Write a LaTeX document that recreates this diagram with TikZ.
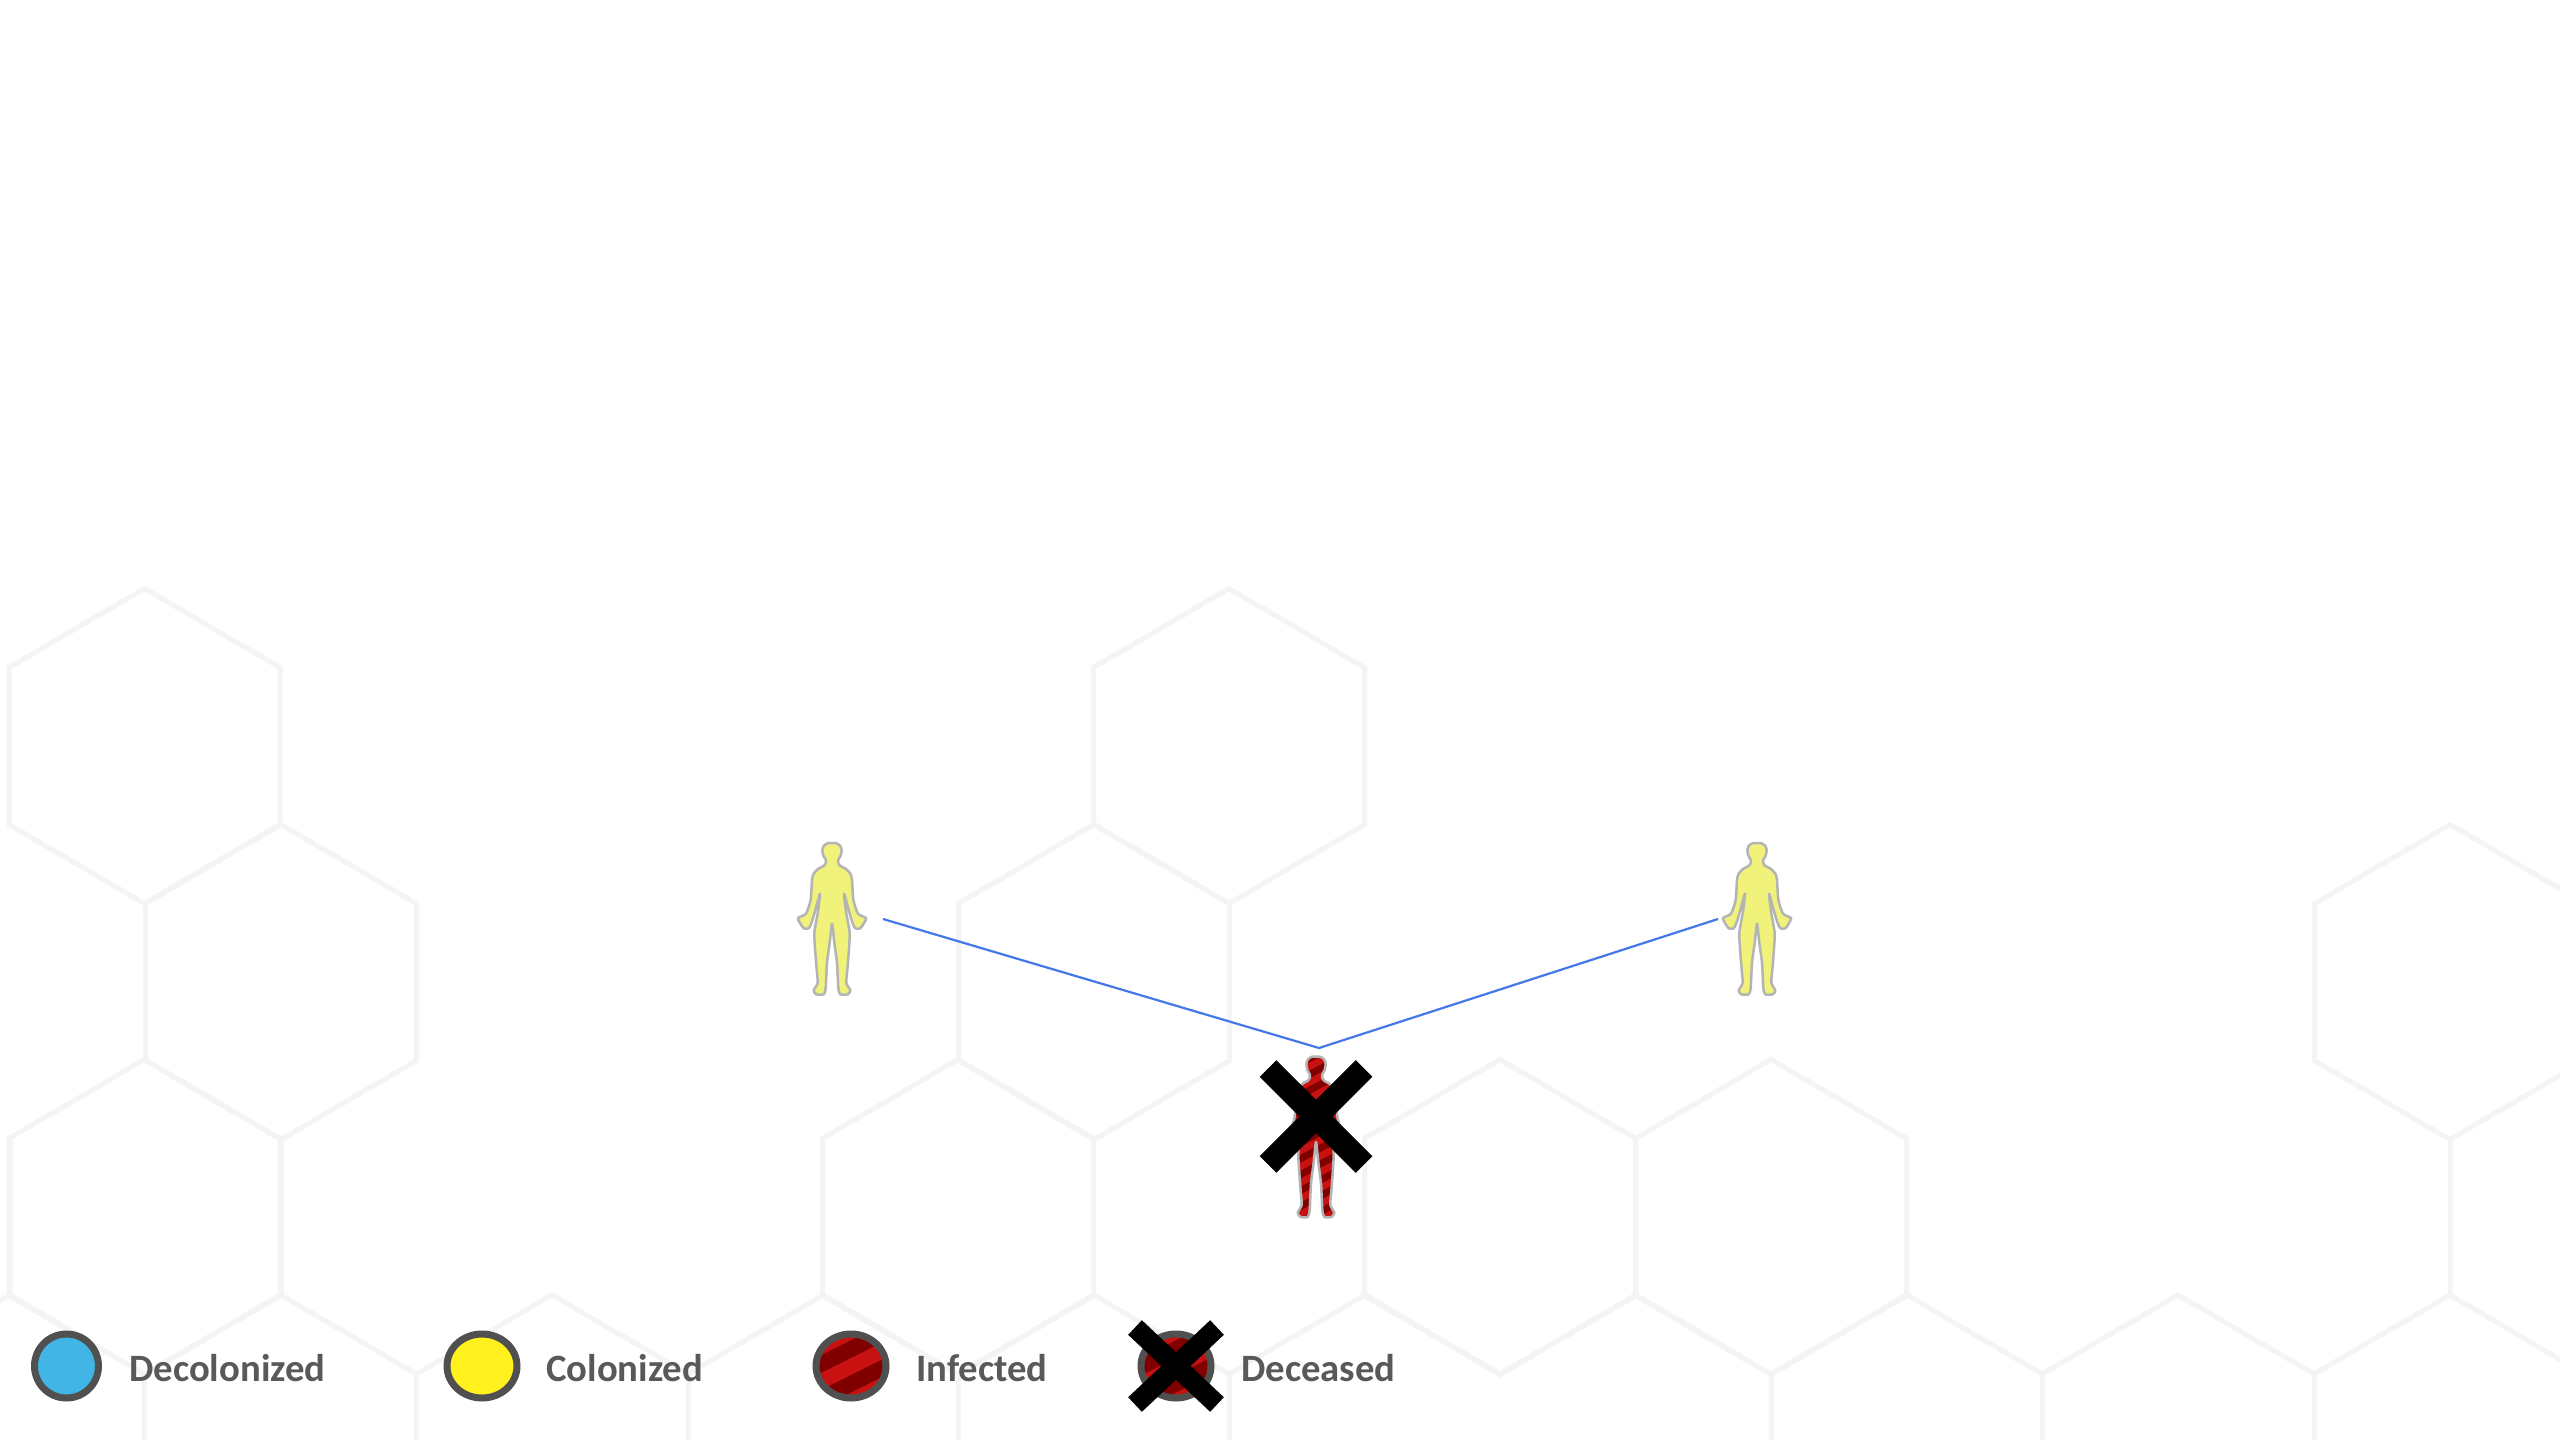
\documentclass[tikz,border=0pt]{standalone}
\usepackage{fontspec}
\setmainfont{Carlito}
\usetikzlibrary{shapes.geometric}
\definecolor{hexgray}{HTML}{F4F4F4}
\definecolor{ringgray}{HTML}{505050}
\definecolor{labelgray}{HTML}{595959}
\definecolor{skyfill}{HTML}{41B6E6}
\definecolor{sunfill}{HTML}{FFF01E}
\definecolor{redlight}{HTML}{C81212}
\definecolor{reddark}{HTML}{800000}
\definecolor{personyellow}{HTML}{F0F27A}
\definecolor{persongray}{HTML}{B4B4B4}
\definecolor{linkblue}{HTML}{4478E8}
\newcommand{\personshape}{plot[smooth cycle,tension=0.4] coordinates {
 (0,0)(14,1)(25,9)(29,22)(26,38)(20,48)(18,58)(24,68)(42,78)(55,92)(60,110)(64,170)(78,212)(102,225)(95,242)(85,256)(70,256)(60,235)(47,190)(36,152)
 (42,205)(53,270)(50,330)(46,380)(43,420)(55,442)(47,454)(25,454)(19,435)(15,360)(7,300)(0,242)
 (-7,300)(-15,360)(-19,435)(-25,454)(-47,454)(-55,442)(-43,420)(-46,380)(-50,330)(-53,270)(-42,205)
 (-36,152)(-47,190)(-60,235)(-70,256)(-85,256)(-95,242)(-102,225)(-78,212)(-64,170)(-60,110)(-55,92)(-42,78)(-24,68)(-18,58)(-20,48)(-26,38)(-29,22)(-25,9)(-14,1)}}
\newcommand{\hexcell}[2]{\draw[hexline] (#1-135.5,#2-78.5) -- (#1,#2-157.5) -- (#1+135.5,#2-78.5) -- (#1+135.5,#2+78.5) -- (#1,#2+157.5) -- (#1-135.5,#2+78.5) -- cycle;}
\tikzset{
 hexline/.style={draw=hexgray,line width=5pt,line join=miter},
 swatch/.style={ellipse,draw=ringgray,line width=7pt,inner sep=0pt,minimum width=70pt,minimum height=64pt},
 stripedswatch/.style={swatch,fill=redlight,path picture={
  \fill[reddark] (-50,-25.7+25) -- (50,-25.7-25) -- (50,-8.1-25) -- (-50,-8.1+25) -- cycle;
  \fill[reddark] (-50,9+25) -- (50,9-25) -- (50,26.5-25) -- (-50,26.5+25) -- cycle;
 }},
 legendtext/.style={anchor=base west,inner sep=0pt,text=labelgray,font=\fontsize{38.7}{41}\selectfont\bfseries},
 personyel/.style={fill=personyellow,draw=persongray,line width=2.5pt,line join=round},
 link/.style={draw=linkblue,line width=2.2pt,line join=miter},
 crossbar/.style={draw=black,line cap=butt},
}
\begin{document}
\begin{tikzpicture}[x=1pt,y=-1pt]
\useasboundingbox[fill=white] (0,0) rectangle (2560,1440);
% hexagon background
\begin{scope}
\clip (0,0) rectangle (2560,1440);
\hexcell{144.5}{746}
\hexcell{1229}{746}
\hexcell{281}{982}
\hexcell{1094}{982}
\hexcell{2450}{982}
\hexcell{144.5}{1217}
\hexcell{958}{1217}
\hexcell{1500}{1217}
\hexcell{1771}{1217}
\draw[hexline] (-125,1374) -- (10,1295) -- (144.5,1374) -- (281,1295) -- (416.5,1374) -- (552,1295) -- (688,1374) -- (823,1295) -- (958,1374) -- (1094,1295) -- (1229,1374) -- (1365,1295) -- (1500,1374) -- (1636,1295) -- (1771,1374) -- (1907,1295) -- (2042,1374) -- (2178,1295) -- (2314,1374) -- (2450,1295) -- (2585,1374);
\draw[hexline] (10,1139) -- (10,1295) (281,1139) -- (281,1295) (2450,1139) -- (2450,1295);
\foreach \vx in {144.5,416.5,688,958,1229,1771,2042,2314} {\draw[hexline] (\vx,1374) -- (\vx,1445);}
\end{scope}
% connector
\coordinate (linkleft) at (883,919);
\coordinate (linkapex) at (1319,1048);
\coordinate (linkright) at (1718,919);
\draw[link] (linkleft) -- (linkapex) -- (linkright);
% yellow people
\begin{scope}[shift={(832,843)},scale=0.3333]
\draw[personyel] \personshape;
\end{scope}
\begin{scope}[shift={(1757,843)},scale=0.3333]
\draw[personyel] \personshape;
\end{scope}
% deceased person
\begin{scope}[shift={(1316,1056.5)},xscale=0.3333,yscale=0.3533]
\begin{scope}
\clip \personshape;
\fill[redlight] (-140,-10) rectangle (140,470);
\foreach \sy in {-60,-15,...,620} {
 \fill[reddark] (-140,\sy+70) -- (140,\sy-70) -- (140,\sy-48) -- (-140,\sy+92) -- cycle;}
\end{scope}
\draw[draw=persongray,line width=2.5pt,line join=round] \personshape;
\end{scope}
\coordinate (bigx) at (1316,1116.5);
\draw[crossbar,line width=23.6pt] ([shift={(-48,-48)}]bigx) -- ([shift={(48,48)}]bigx);
\draw[crossbar,line width=23.6pt] ([shift={(48,-48)}]bigx) -- ([shift={(-48,48)}]bigx);
% legend
\node[swatch,fill=skyfill,minimum width=64pt] (swdecol) at (66.5,1366) {};
\node[swatch,fill=sunfill] (swcol) at (482,1366) {};
\node[stripedswatch] (swinf) at (851,1366) {};
\node[stripedswatch] (swdec) at (1176,1366) {};
\draw[crossbar,line width=20pt] ([shift={(-41,-38.5)}]swdec.center) -- ([shift={(41,38.5)}]swdec.center);
\draw[crossbar,line width=20pt] ([shift={(41,-38.5)}]swdec.center) -- ([shift={(-41,38.5)}]swdec.center);
\node[legendtext] (ldecol) at (129,1381) {Decolonized};
\node[legendtext] (lcol) at (546,1381) {Colonized};
\node[legendtext] (linf) at (916,1381) {Infected};
\node[legendtext] (ldec) at (1241,1381) {Deceased};
\end{tikzpicture}
\end{document}
